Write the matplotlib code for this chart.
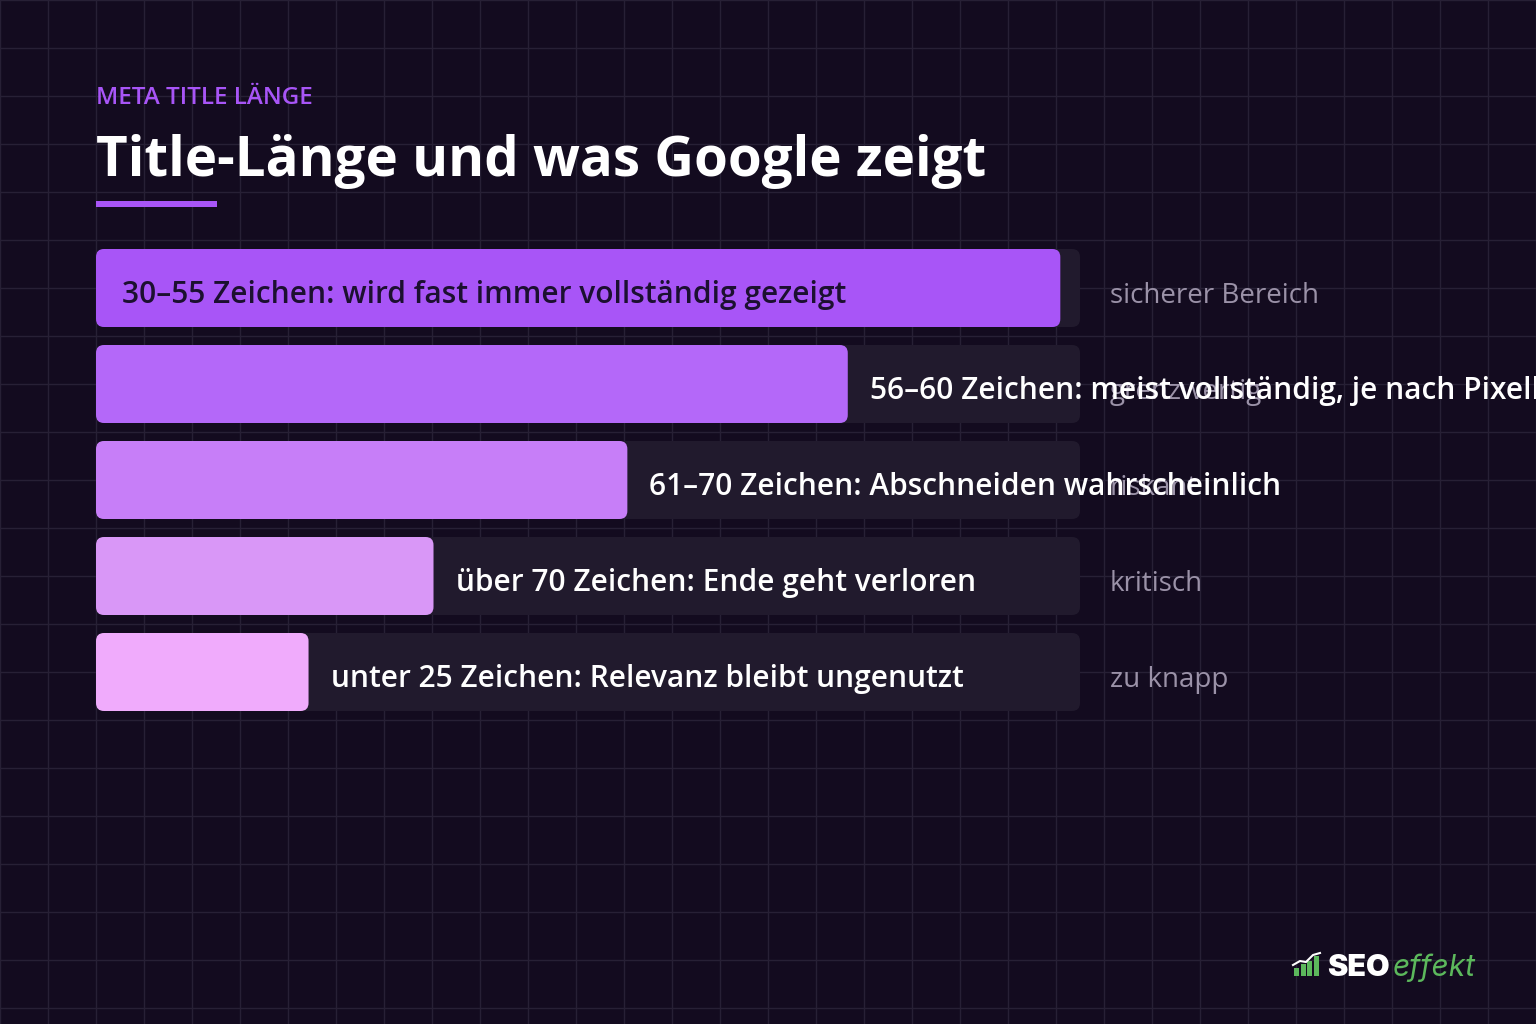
import matplotlib.pyplot as plt
from matplotlib.patches import FancyBboxPatch, Rectangle

# data
labels = [
    "30–55 Zeichen: wird fast immer vollständig gezeigt",
    "56–60 Zeichen: meist vollständig, je nach Pixelbreite",
    "61–70 Zeichen: Abschneiden wahrscheinlich",
    "über 70 Zeichen: Ende geht verloren",
    "unter 25 Zeichen: Relevanz bleibt ungenutzt",
]
zones = ["sicherer Bereich", "grenzwertig", "riskant", "kritisch", "zu knapp"]
values = [98, 76.4, 54, 34.3, 21.6]  # Anteil der Spur in %
bar_colors = ["#a855f7", "#b468f9", "#c77ef8", "#d997f7", "#f0abfc"]

BG = "#130b1f"
GRID = "#272035"
TRACK = "#211a2d"

plt.rcParams['font.family'] = ['Open Sans', 'DejaVu Sans']

fig = plt.figure(figsize=(15.36, 10.24), dpi=100, facecolor=BG)
ax = fig.add_axes([0, 0, 1, 1])
ax.set_xlim(0, 1536)
ax.set_ylim(1024, 0)
ax.set_facecolor(BG)
ax.axis('off')

# grid im hintergrund
for gx in range(0, 1537, 48):
    ax.axvline(gx, color=GRID, lw=1, zorder=0)
for gy in range(0, 1025, 48):
    ax.axhline(gy, color=GRID, lw=1, zorder=0)

# kopf
ax.text(96, 104, "META TITLE LÄNGE", color="#a855f7", fontsize=17.5,
        fontweight='semibold', va='baseline')
ax.text(96, 176, "Title-Länge und was Google zeigt", color="white",
        fontsize=39.4, fontweight='bold', va='baseline')
ax.add_patch(Rectangle((96, 201), 121, 6, color="#a855f7", lw=0))

x0, track_w = 96, 984
top0, step, h = 249, 96, 78
for i, (lab, zone, v, c) in enumerate(zip(labels, zones, values, bar_colors)):
    top = top0 + i * step
    ax.add_patch(FancyBboxPatch((x0, top), track_w, h,
                                boxstyle="round,pad=0,rounding_size=8",
                                fc=TRACK, ec='none', zorder=2))
    w = track_w * v / 100
    ax.add_patch(FancyBboxPatch((x0, top), w, h,
                                boxstyle="round,pad=0,rounding_size=8",
                                fc=c, ec='none', zorder=3))
    if i == 0:
        ax.text(x0 + 26, top + 54, lab, color="#1c1030", fontsize=21.5,
                fontweight='semibold', va='baseline', zorder=5)
    else:
        ax.text(x0 + w + 22, top + 54, lab, color="white", fontsize=21.5,
                fontweight='semibold', va='baseline', zorder=5)
    ax.text(1110, top + 54, zone, color="#9b92a8", fontsize=20,
            va='baseline', zorder=4)

# logo
green = "#5cb85c"
for k, hh in enumerate([8, 12, 15, 20]):
    ax.add_patch(Rectangle((1294 + k * 6.5, 976 - hh), 5, hh, color=green, lw=0, zorder=5))
ax.plot([1293, 1300, 1306, 1313, 1320], [965, 961, 962, 955, 953], color="white", lw=1.5, zorder=6)
ax.text(1327, 976, "SEO", color="white", fontsize=22, fontweight='black',
        family=['Inter', 'DejaVu Sans'], va='baseline', zorder=5)
ax.text(1393, 976, "effekt", color=green, fontsize=21.5, style='italic',
        family=['Inter', 'DejaVu Sans'], va='baseline', zorder=5)

fig.savefig("out.png", dpi=100, facecolor=BG)
